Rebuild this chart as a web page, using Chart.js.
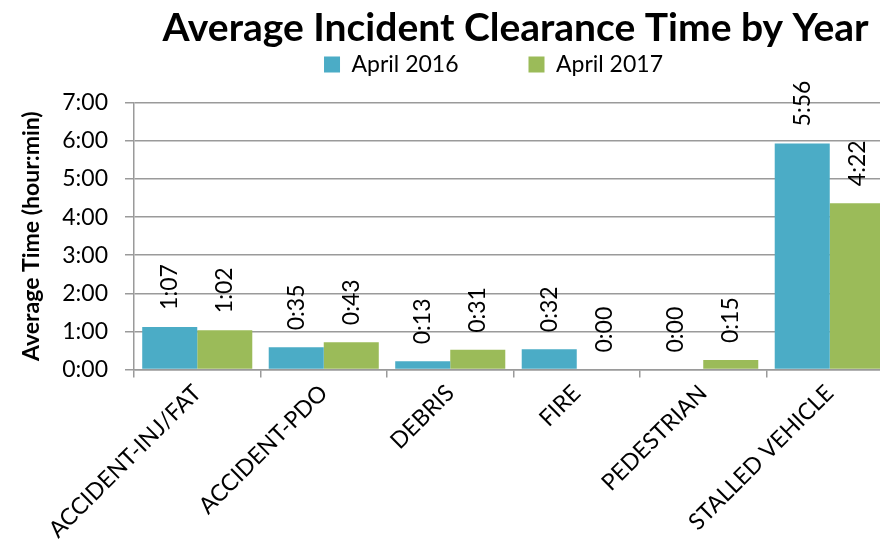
<!DOCTYPE html>
<html>
<head>
<meta charset="utf-8">
<script src="https://cdn.jsdelivr.net/npm/chart.js@4.4.1/dist/chart.umd.min.js"></script>
<style>
  html, body { margin: 0; padding: 0; overflow: hidden; background: #fff; }
  #wrap { width: 880px; height: 543px; overflow: hidden; }
</style>
</head>
<body>
<div id="wrap"><canvas id="clearanceChart" width="893" height="543"></canvas></div>
<script>
// Categories and values (minutes)
const categories = ['ACCIDENT-INJ/FAT', 'ACCIDENT-PDO', 'DEBRIS', 'FIRE', 'PEDESTRIAN', 'STALLED VEHICLE'];
const april2016 = [67, 35, 13, 32, 0, 356];
const april2017 = [62, 43, 31, 0, 15, 262];
const yTicks = [0, 60, 120, 180, 240, 300, 360, 420];

const gridGray = '#9a9a9a';
const font = 'Lato';

function hm(mins) {
    const h = Math.floor(mins / 60);
    const m = Math.round(mins % 60);
    return h + ':' + String(m).padStart(2, '0');
}

// value labels, rotated, above each bar
const barLabels = {
    id: 'barLabels',
    afterDatasetsDraw(chart) {
        const ctx = chart.ctx;
        ctx.save();
        ctx.font = '23px ' + font;
        ctx.fillStyle = '#000';
        ctx.textAlign = 'left';
        ctx.textBaseline = 'middle';
        chart.data.datasets.forEach((ds, i) => {
            chart.getDatasetMeta(i).data.forEach((bar, j) => {
                ctx.save();
                ctx.translate(bar.x, bar.y - 17);
                ctx.rotate(-Math.PI / 2);
                ctx.fillText(hm(ds.data[j]), 0, 0);
                ctx.restore();
            });
        });
        ctx.restore();
    }
};

// move title and legend to where the original has them
const nudge = {
    id: 'nudge',
    afterLayout(chart) {
        const t = chart.titleBlock;
        if (t) { t.left += 69; t.right += 69; }
        const l = chart.legend;
        if (l) {
            l.left += 47; l.right += 47;
            l.top = -17;
        }
    }
};

const ctx = document.getElementById('clearanceChart').getContext('2d');
const clearanceChart = new Chart(ctx, {
    type: 'bar',
    data: {
        labels: categories,
        datasets: [{
            label: 'April 2016',
            data: april2016,
            backgroundColor: '#4BACC6'
        }, {
            label: 'April 2017',
            data: april2017,
            backgroundColor: '#9BBB59'
        }]
    },
    options: {
        responsive: false,
        animation: false,
        categoryPercentage: 0.87,
        barPercentage: 1.0,
        layout: { padding: 0 },
        plugins: {
            title: {
                display: true,
                text: 'Average Incident Clearance Time by Year',
                color: '#000',
                font: { family: font, size: 39, weight: 'bold' },
                padding: { top: 5, bottom: 0 }
            },
            legend: {
                position: 'top',
                maxHeight: 51,
                labels: {
                    color: '#000',
                    font: { family: font, size: 23 },
                    boxWidth: 16,
                    boxHeight: 16,
                    padding: 70
                }
            },
            tooltip: { enabled: false }
        },
        scales: {
            x: {
                afterFit(scale) { scale.height = 173.5; },
                grid: {
                    offset: true,
                    drawOnChartArea: false,
                    color: gridGray,
                    lineWidth: 1.5,
                    tickLength: 8
                },
                border: { color: gridGray, width: 1.5 },
                ticks: {
                    color: '#000',
                    font: { family: font, size: 23 },
                    minRotation: 45,
                    maxRotation: 45,
                    padding: 2
                }
            },
            y: {
                min: 0,
                max: 420,
                afterFit(scale) { scale.width = 134; },
                afterBuildTicks(scale) { scale.ticks = yTicks.map(v => ({ value: v })); },
                grid: { color: gridGray, lineWidth: 1.5, tickLength: 9 },
                border: { color: gridGray, width: 1.5 },
                ticks: {
                    color: '#000',
                    font: { family: font, size: 23 },
                    padding: 17,
                    callback: v => hm(v)
                },
                title: {
                    display: true,
                    text: 'Average Time (hour:min)',
                    color: '#000',
                    font: { family: font, size: 23, weight: 'bold' },
                    padding: { top: 18, bottom: 0 }
                }
            }
        }
    },
    plugins: [barLabels, nudge]
});
</script>
</body>
</html>
